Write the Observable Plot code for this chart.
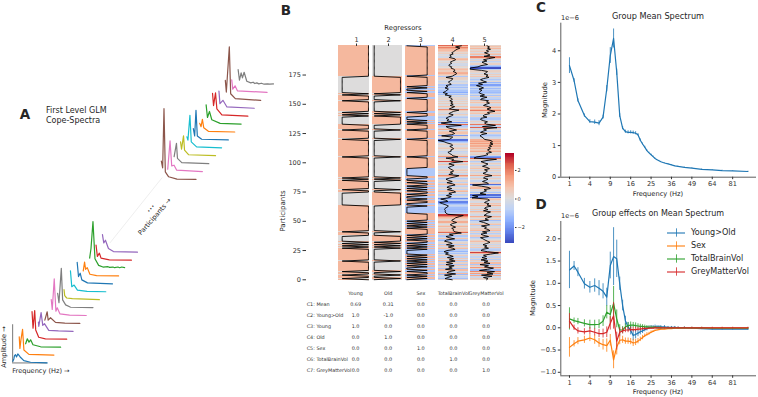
<!DOCTYPE html>
<html><head><meta charset="utf-8">
<script src="https://cdn.jsdelivr.net/npm/d3@7"></script>
<script src="https://cdn.jsdelivr.net/npm/@observablehq/plot@0.6"></script>
<style>
html,body{margin:0;padding:0;background:#fff}
#fig{position:relative;width:758px;height:397px;overflow:hidden;font-family:"DejaVu Sans",sans-serif;color:#262626}
#fig svg{position:absolute;background:transparent;overflow:visible}
.lb{position:absolute;white-space:pre;line-height:1}
</style></head><body><div id="fig"></div>
<script>
// ---------- data: panel C / D ----------
const freqs=[1,1.5,2,3,4,5,6,7,8,9,10,11,12,13,14,15,16,17,18,19,20,21,22,23,24,25,26,27,28,29,30,32,34,36,38,40,44,49,56,64,72,81,95];
const meanSpec=[3.53,3.06,2.43,1.95,1.76,1.74,1.71,1.9,2.8,3.85,4.39,3.32,1.95,1.55,1.44,1.42,1.42,1.41,1.39,1.34,1.17,1.05,.95,.84,.77,.71,.65,.59,.55,.52,.49,.45,.42,.39,.36,.34,.31,.285,.25,.23,.21,.2,.18];
const meanErr=[.25,.06,.05,.05,.06,.07,.08,.06,.1,.25,.3,.1,.06,.05,.05,.05,.05,.05,.05,.04,.04,.03,.03,.02,.02,.02,.02,.01,.01,.01,.01,.01,.01,.01,.01,.01,.01,.01,.01,.01,.01,.01,.01];
const youngOld=[1.30,1.39,1.25,.99,.91,.95,.89,.82,.69,1.4,1.6,1.55,.99,.5,.16,.02,-.06,-.17,-.15,-.12,-.09,-.07,-.04,-.02,0,.01,.01,.02,.02,.02,.02,.02,.01,.01,.01,0,0,-.01,-.02,-.03,-.03,-.03,-.03];
const youngOldErr=[.42,.1,.1,.12,.13,.15,.17,.17,.2,.3,.65,.42,.15,.12,.1,.1,.1,.12,.1,.08,.07,.06,.05,.05,.04,.04,.04,.04,.03,.03,.03,.03,.02,.02,.02,.02,.02,.02,.02,.02,.02,.02,.02];
const sexEff=[-.44,-.36,-.3,-.27,-.23,-.27,-.34,-.38,-.4,-.28,-.72,-.43,-.28,-.27,-.3,-.3,-.31,-.34,-.33,-.3,-.26,-.22,-.18,-.15,-.13,-.1,-.08,-.06,-.05,-.04,-.03,-.03,-.02,-.02,-.01,-.01,0,0,0,0,0,0,0];
const sexErr=[.22,.07,.08,.08,.08,.1,.1,.12,.15,.13,.2,.18,.1,.08,.07,.07,.07,.08,.07,.06,.05,.05,.04,.04,.03,.03,.02,.02,.02,.02,.02,.01,.01,.01,.01,.01,.01,.01,.01,.01,.01,.01,.01];
const tbvEff=[.2,.16,.14,.1,.07,.07,.08,.15,.35,.3,.55,.2,-.05,-.05,.02,.05,.06,.06,.05,.04,.03,.03,.02,.02,.01,.01,.01,.01,0,0,0,0,0,0,0,0,0,0,0,-.01,-.01,-.01,-.01];
const tbvErr=[.25,.06,.07,.08,.1,.1,.1,.12,.15,.2,.38,.2,.12,.08,.07,.07,.07,.06,.06,.05,.05,.04,.04,.03,.03,.03,.02,.02,.02,.02,.02,.01,.01,.01,.01,.01,.01,.01,.01,.01,.01,.01,.01];
const gmvEff=[.15,0,-.07,-.09,-.07,-.1,-.13,-.13,-.1,.1,.27,-.3,-.1,-.07,-.05,-.05,-.04,-.04,-.04,-.03,-.03,-.02,-.02,-.02,-.01,-.01,-.01,0,0,0,0,0,0,0,0,0,0,0,0,0,0,0,0];
const gmvErr=[.17,.06,.07,.07,.08,.08,.09,.1,.12,.15,.3,.2,.1,.07,.06,.06,.05,.05,.05,.04,.04,.03,.03,.02,.02,.02,.02,.02,.01,.01,.01,.01,.01,.01,.01,.01,.01,.01,.01,.01,.01,.01,.01];
const freqTicks=[1,4,9,16,25,36,49,64,81];
const tab10=["#1f77b4","#ff7f0e","#2ca02c","#d62728","#9467bd","#8c564b","#e377c2","#7f7f7f","#bcbd22","#17becf"];
const effectNames=["Young>Old","Sex","TotalBrainVol","GreyMatterVol"];

// ---------- data: panel B ----------
const regressors=["Young","Old","Sex","TotalBrainVol","GreyMatterVol"];
const youngRuns=[1,1,2,1,2,1,8,1,10,1,1,1,1,1,1,5,3,1,22,11,2,1,7,1,1,1,17,1,14,1,7,1,4,7,1,1,1,1,9,1,4,1,1,14,27]; // alternating 1,0,… from row 0
const sexRuns=[1,1,1,1,1,2,1,1,2, 1,1,1,1,1,1,1,1,1,1,1, 4, 1,1,1,1,1,1, 2, 1,1,1,1,1, 5, 1,1,1,1,1,1,1, 6,6,1,2,2,1,1,2,1,1,2, 1,1,1,1,1, 2,1,1,2,2,7,9,1,14,1,7,1,4,1,1,1,1,3,3,1,11,1,4,1,1,2,1,1,8,1,25,1]; // alternating -1,1,… from row 0
const brainVol=[2.2,1.0,1.9,1.3,0.9,0.6,0.2,0.5,-0.2,0.1, -0.3,0.8,1.0,0.4,-0.1,0.2,-0.3,-0.4,0.2,0.0, 0.6,0.9,0.5,1.1,1.2,0.7,0.3,-1.0,0.4,0.3, -0.1,-0.5,-0.2,0.1,-1.0,-0.6,-1.2,-0.5,-0.8,-1.1, -1.6,-0.7,-1.2,0.1,-0.4,0.2,0.3,-0.2,0.4,0.0, 0.5,-0.1,0.8,0.2,-0.3,1.7,0.6,0.1,-0.4,0.5, 0.1,-0.6,-1.0,-0.4,-0.8,0.2,-2.0,-0.5,2.2,-1.0, -0.6,0.3,1.2,-0.3,0.5,0.8,0.2,-1.9,0.4,0.1, -0.3,-2.6,-1.4,-0.8,0.1,0.4,-0.2,0.3,0.6,0.0, 0.1,-0.6,-0.3,0.2,0.4,1.5,-1.0,0.6,0.2,2.5, 0.3,-0.4,0.7,0.1,-0.5,-0.2,0.3,0.6,-0.1,0.4, -0.4,1.7,0.9,-0.2,-1.0,-0.5,0.3,-0.8,0.4,0.9, -0.4,-0.8,0.2,-0.7,0.6,1.0,-0.4,0.2,-0.9,0.1, -0.6,-2.1,-1.0,-0.6,-2.3,-1.7,-1.0,-0.5,-0.8,-1.2, -1.3,-1.1,-1.2,-1.0,-0.6,2.6,1.8,1.0,0.7,0.2, 0.4,1.2,0.3,-0.1,0.4,1.0,0.2,0.6,0.5,0.9, 2.2,-0.3,0.5,-1.0,-0.4,0.8,-0.9,-1.3,-0.2,0.3, -0.9,0.7,-0.5,0.4,0.9,-0.8,-1.4,-0.5,-1.1,-0.2, 0.5,-0.7,0.6,-0.3,0.9,-0.9,0.4,-1.0,0.7,-0.4, 0.3,-1.1,0.9,-0.3,-0.8,1.0,-1.3,0.2,-0.6,-1.2, 0.3]; // top row down
const greyVol=[0.3,0.8,0.4,1.0,0.2,0.6,-0.2,0.5,0.9,-0.3, 1.9,0.6,-0.4,0.3,-0.7,-0.2,0.4,-0.9,-1.5,-3.0, -3.1,-0.8,0.4,0.2,-0.3,0.5,0.1,0.7,-0.4,-1.0, -0.5,0.2,-1.4,-0.6,-1.8,-1.0,-0.4,-1.3,-0.7,-1.1, -1.3,-0.9,-0.2,-1.1,0.3,-0.7,-1.0,0.6,0.2,0.8, 0.1,-0.4,0.6,1.1,0.3,0.9,1.9,0.4,0.8,-0.2, -0.5,0.3,-0.9,-1.0,-0.4,0.4,-0.2,0.2,2.0,-0.6, 2.3,-0.4,0.2,-0.5,-1.0,0.3,-0.8,-1.1,-0.7,-0.4, -0.2,1.1,1.4,0.9,1.5,0.8,1.2,0.6,1.0,0.4, 0.7,1.2,0.2,0.5,-0.3,-1.8,-2.3,2.2,0.3,-0.9, -0.3,0.5,0.1,-0.6,0.3,0.8,-0.2,0.4,0.1,-0.5, 0.2,1.3,-0.1,-0.4,0.5,0.0,-0.6,0.3,0.6,-2.6, -0.8,0.5,1.0,-0.3,0.2,-0.4,-1.1,0.1,-2.6,-1.5, -2.7,0.4,0.8,0.2,-0.2,0.7,0.3,1.1,0.1,-0.2, 0.5,-0.4,1.0,0.4,0.1,-0.3,1.2,0.4,-0.1,0.6, -1.2,-0.4,0.3,0.8,-0.8,0.2,-0.2,0.5,0.9,-0.6, 0.3,-0.9,-0.4,0.6,-1.0,-0.5,-0.1,0.4,0.9,0.2, -0.5,0.3,-0.2,0.6,-0.6,-0.9,0.4,2.6,1.0,-0.4, 0.2,-0.7,0.3,-0.9,0.5,-0.3,0.9,-1.1,0.6,-0.2, 1.6,0.4,-1.2,1.8,0.3,1.5,-0.8,1.3,-0.4,0.5, 0.2]; // top row down
const contrastNames=["C1: Mean","C2: Young>Old","C3: Young","C4: Old","C5: Sex","C6: TotalBrainVol","C7: GreyMatterVol"];
const contrastVals=[["0.69","0.31","0.0","0.0","0.0"],["1.0","-1.0","0.0","0.0","0.0"],["1.0","0.0","0.0","0.0","0.0"],["0.0","1.0","0.0","0.0","0.0"],["0.0","0.0","1.0","0.0","0.0"],["0.0","0.0","0.0","1.0","0.0"],["0.0","0.0","0.0","0.0","1.0"]];
const coolwarm=["#3b4cc0","#6282ea","#8db0fe","#bed2f6","#dddcdc","#f5c4ad","#f49a7b","#de614d","#b40426"];

// ---------- data: panel A ----------
const lowerIdx=d3.range(15), upperIdx=d3.range(13).map(i=>23.2+i);
const lowerSpectra=[
 [[0,5],[3,12],[5,22],[8,25],[11,18],[15,27],[22,18],[33,7],[53,2],[103,0]],
 [[0,55],[2,20],[5,45],[10,77],[14,15],[29,2],[55,1],[104,0]],
 [[0,10],[5,25],[10,15],[15,22],[22,7],[45,1],[105,0]],
 [[0,83],[3,33],[8,86],[11,28],[20,6],[40,1],[104,0]],
 [[0,28],[1,15],[8,56],[13,18],[18,23],[31,3],[60,1],[104,0]],
 [[0,10],[7,35],[10,10],[17,17],[32,3],[60,1],[105,0]],
 [[0,48],[3,18],[9,110],[14,13],[18,23],[26,5],[55,1],[105,0]],
 [[0,43],[4,15],[11,118],[15,23],[24,8],[39,1],[106,0]],
 [[0,30],[2,12],[8,5],[25,3],[106,0]],
 [[0,63],[4,15],[11,20],[21,5],[50,1],[106,0]],
 [[1,65],[5,22],[10,32],[15,12],[32,3],[107,0]],
 [[0,15],[4,42],[7,20],[12,25],[20,5],[40,1],[106,0]],
 [[0,30],[4,58],[10,140],[16,28],[27,8],[40,3],[55,4],[60,2],[70,3],[75,1],[85,3],[90,1],[96,3],[105,1]],
 [[0,45],[4,11],[10,21],[15,6],[40,1],[106,0]],
 [[0,53],[4,28],[9,36],[18,11],[33,2],[105,0]]];
const upperSpectra=[
 [[0,55],[4,35],[8,213],[12,23],[22,8],[47,1],[104,0]],
 [[0,7],[7,92],[12,17],[19,19],[27,4],[104,0]],
 [[0,21],[7,61],[10,16],[23,3],[104,0]],
 [[0,42],[3,20],[9,60],[12,17],[24,3],[105,0]],
 [[0,33],[3,23],[9,98],[13,18],[29,3],[104,0]],
 [[0,34],[4,12],[8,89],[12,12],[25,2],[105,0]],
 [[0,26],[4,16],[8,38],[12,13],[26,2],[105,0]],
 [[0,58],[4,20],[10,38],[17,13],[42,2],[105,0]],
 [[0,69],[3,32],[9,70],[13,22],[28,4],[106,0]],
 [[0,52],[3,14],[12,24],[24,4],[106,0]],
 [[0,60],[3,25],[12,161],[16,20],[30,5],[106,0]],
 [[0,38],[3,10],[10,20],[17,5],[106,0]],
 [[0,45],[4,13],[9,35],[13,20],[18,37],[26,10],[38,5],[45,7],[50,3],[56,5],[62,2],[70,4],[78,1],[88,2],[95,1],[106,2]]];
const stepFreq=19.2, stepAmp=23.8;
const amplitudeAxisTop=4.83;
const linkLine=[{u:15.2,v:15.2},{u:23.3,v:23.4}];

// ---------- helpers ----------
const fig=document.getElementById("fig");
const font="DejaVu Sans, sans-serif";
function put(opts,left,top){
  const el=Plot.plot({...opts,style:{fontFamily:font,background:"transparent",overflow:"visible",...(opts.style||{})}});
  el.style.left=left+"px"; el.style.top=top+"px"; fig.appendChild(el); return el;
}
function lb(t,x,y,size,o={}){
  const d=document.createElement("div"); d.className="lb"; d.textContent=t;
  d.style.left=x+"px"; d.style.top=y+"px"; d.style.fontSize=size+"px";
  if(o.weight) d.style.fontWeight=o.weight;
  const ax=o.anchor==="start"?"0":"-50%";
  d.style.transform=`translate(${ax},-50%)`+(o.rotate?` rotate(${o.rotate}deg)`:"");
  fig.appendChild(d);
}
function expand(runs,a,b){const out=[];runs.forEach((n,i)=>{for(let k=0;k<n;k++)out.push(i%2?b:a)});return out}
const ink="#333";

// ---------- panel A ----------
function traceRows(list,idx,colorStart){
  return list.flatMap((pts,k)=>pts.map(([f,a])=>({k:`${colorStart}-${k}`,u:idx[k]+f/stepFreq,v:idx[k]+a/stepAmp,c:tab10[(k+colorStart)%10]})));
}
const rowsA=[...traceRows(lowerSpectra,lowerIdx,0),...traceRows(upperSpectra,upperIdx,5)];
put({width:280,height:337,margin:0,
  x:{domain:[-1.927,41.82],range:[0,280],axis:null},
  y:{domain:[-4.37,38.24],range:[337,0],axis:null},
  marks:[
   Plot.line(linkLine,{x:"u",y:"v",stroke:"#e6e6e6",strokeWidth:.7}),
   Plot.ruleX([-0.03],{y1:0,y2:amplitudeAxisTop,stroke:"#555",strokeWidth:.8}),
   Plot.ruleY([0],{x1:-0.03,x2:5.4,stroke:"#555",strokeWidth:.8}),
   Plot.line(rowsA,{x:"u",y:"v",z:"k",stroke:"c",strokeWidth:1.2,curve:"linear"})
  ]},0,60);
lb("A",25,115,13.5,{weight:"bold"});
lb("First Level GLM",46,111,8,{anchor:"start"});
lb("Cope-Spectra",46,121,8,{anchor:"start"});
lb("Amplitude →",4,347,6.6,{rotate:-90});
lb("Frequency (Hz) →",12.3,371,6.6,{anchor:"start"});
lb("Participants →",155,217,6.6,{rotate:-49});
lb("...",149,207,10,{rotate:-49});

// ---------- panel B ----------
const young=expand(youngRuns,1,0);
const old=young.map(v=>1-v);
const sex=expand(sexRuns,-1,1);
const brainRows=brainVol.slice().reverse(), greyRows=greyVol.slice().reverse();
const colours={type:"linear",domain:[-3.1,3.1],interpolate:d3.piecewise(d3.interpolateRgb,coolwarm),legend:false};
const columnsB=[
 {vals:young,left:338,w:31.3,dom:[-.14,1.05]},
 {vals:old,left:372.3,w:29.7,dom:[-.065,1.065]},
 {vals:sex,left:405.3,w:29.7,dom:[-1.14,1.79]},
 {vals:brainRows,left:437.7,w:30,dom:[-2.56,3.69]},
 {vals:greyRows,left:470,w:31,dom:[-3,3.2]}];
columnsB.forEach((c,i)=>{
  const rows=c.vals.map((v,r)=>({r,v}));
  const ml=i===0?58:0;
  put({width:c.w+ml,height:236.6,marginLeft:ml,marginRight:0,marginTop:.7,marginBottom:.7,
   x:{domain:c.dom,axis:null},
   y:{domain:[-.5,200.5],axis:null},
   color:colours,
   marks:[
    Plot.rect(rows,{x1:c.dom[0],x2:c.dom[1],y1:d=>d.r-.5,y2:d=>d.r+.5,fill:"v",shapeRendering:"crispEdges",style:{filter:"blur(0.5px)"}}),
    Plot.line(rows,{x:"v",y:"r",stroke:"#000",strokeWidth:.9}),
    ...(i===0?[Plot.axisY({anchor:"left",ticks:d3.range(0,176,25),tickSize:3.5,tickPadding:2,fontSize:6.6,label:null,dx:-32,color:ink,tickFormat:d=>d})]:[])
   ]},c.left-ml,44);
});
// top regressor axis
put({width:163,height:12,margin:0,marginTop:12,marginBottom:0,
  x:{type:"point",padding:0,domain:[1,2,3,4,5],range:[16.7,147],axis:null},
  marks:[Plot.axisX({anchor:"top",tickSize:2.5,tickPadding:1,fontSize:6.6,label:null,color:ink})]},338,33);
lb("Regressors",403,28,6.8);
lb("Participants",282.5,211,7,{rotate:-90});
lb("B",286,11,13.5,{weight:"bold"});
// colour bar
put({width:30,height:89,marginLeft:0,marginRight:21,marginTop:0,marginBottom:0,
  x:{domain:[0,1],axis:null},
  y:{domain:[-3.12,3.12]},
  color:colours,
  marks:[
   Plot.rect(d3.range(-3.12,3.12,.06),{x1:0,x2:1,y1:d=>d,y2:d=>d+.07,fill:d=>d,shapeRendering:"crispEdges"}),
   Plot.axisY({anchor:"right",ticks:[-2,0,2],tickSize:1.5,tickPadding:1.5,fontSize:5,label:null,color:ink,tickFormat:d=>d<0?"−"+(-d):d})
  ]},505,154.3);
// contrast table
const colX=[1,2,3,4,5];
const tableCells=contrastVals.flatMap((row,r)=>row.map((t,c)=>({x:colX[c],y:contrastNames[r],t})));
const rowY=["Header",...contrastNames];
put({width:230,height:95,margin:0,
  x:{domain:[-.75,6.3],range:[0,230],axis:null},
  y:{type:"point",padding:0,domain:rowY,range:[6,88.7],axis:null},
  marks:[
   Plot.text(regressors,{x:(d,i)=>colX[i],y:()=>"Header",text:d=>d,fontSize:4.9,fill:"#333"}),
   Plot.text(tableCells,{x:"x",y:"y",text:"t",fontSize:4.9,fill:"#333"}),
   Plot.text(contrastNames,{x:-.5,y:d=>d,text:d=>d,fontSize:4.9,textAnchor:"start",fill:"#333"})
  ]},298,284);

// ---------- panels C, D ----------
const xDomain=[.33,103.4];
const axisLine=(yv)=>[Plot.ruleX([xDomain[0]],{stroke:ink,strokeWidth:.8}),Plot.ruleY([yv],{stroke:ink,strokeWidth:.8})];
const xAx=()=>Plot.axisX({ticks:freqTicks,tickSize:2.5,tickPadding:2,fontSize:6.6,label:null,color:ink,tickFormat:d=>d});
const series=(vals,errs)=>freqs.map((f,i)=>({f,v:vals[i],lo:vals[i]-errs[i],hi:vals[i]+errs[i]}));
function errLine(vals,errs,col){
  const t=series(vals,errs);
  return [Plot.ruleX(t,{x:"f",y1:"lo",y2:"hi",stroke:col,strokeWidth:.8}),Plot.line(t,{x:"f",y:"v",stroke:col,strokeWidth:1.2})];
}
put({width:228,height:195,marginLeft:30.3,marginRight:2,marginTop:22.7,marginBottom:18.3,
  x:{type:"sqrt",domain:xDomain,axis:null},
  y:{domain:[0,4.873],axis:null},
  marks:[...axisLine(0),xAx(),
   Plot.axisY({ticks:[0,1,2,3,4],tickSize:2.5,tickPadding:2,fontSize:6.6,label:null,color:ink,tickFormat:d=>d}),
   ...errLine(meanSpec,meanErr,tab10[0])]},530,0);
put({width:228,height:202,marginLeft:30.3,marginRight:2,marginTop:26,marginBottom:21.7,
  x:{type:"sqrt",domain:xDomain,axis:null},
  y:{domain:[-1.079,2.389],axis:null},
  marks:[...axisLine(-1.079),xAx(),
   Plot.axisY({ticks:[-1,-.5,0,.5,1,1.5,2],tickSize:2.5,tickPadding:2,fontSize:6.6,label:null,color:ink,tickFormat:d3.format(".1f")}),
   ...errLine(youngOld,youngOldErr,tab10[0]),
   ...errLine(sexEff,sexErr,tab10[1]),
   ...errLine(tbvEff,tbvErr,tab10[2]),
   ...errLine(gmvEff,gmvErr,tab10[3])]},530,195);
lb("C",541,8,13.5,{weight:"bold"});
lb("D",541,205,13.5,{weight:"bold"});
lb("1e−6",561,18,6.6,{anchor:"start"});
lb("1e−6",561,216,6.6,{anchor:"start"});
lb("Group Mean Spectrum",658,15.6,8.2);
lb("Group effects on Mean Spectrum",658,214,8);
lb("Frequency (Hz)",658,193.5,6.7);
lb("Frequency (Hz)",658,392,6.7);
lb("Magnitude",544.7,100,6.8,{rotate:-90});
lb("Magnitude",532.7,298,6.8,{rotate:-90});
// legend
const legY=[0,1,2,3];
put({width:60,height:52,margin:0,
  x:{domain:[0,1],range:[0,18],axis:null},
  y:{domain:[-.5,3.5],range:[0,52],axis:null},
  marks:[
   Plot.ruleY(legY,{x1:0,x2:1,stroke:d=>tab10[d],strokeWidth:1.1}),
   Plot.ruleX(legY,{x:.5,y1:d=>d-.32,y2:d=>d+.32,stroke:d=>tab10[d],strokeWidth:.8})
  ]},667,225.5);
effectNames.forEach((n,i)=>lb(n,691,232.3+i*12.9,8.1,{anchor:"start"}));
</script></body></html>
